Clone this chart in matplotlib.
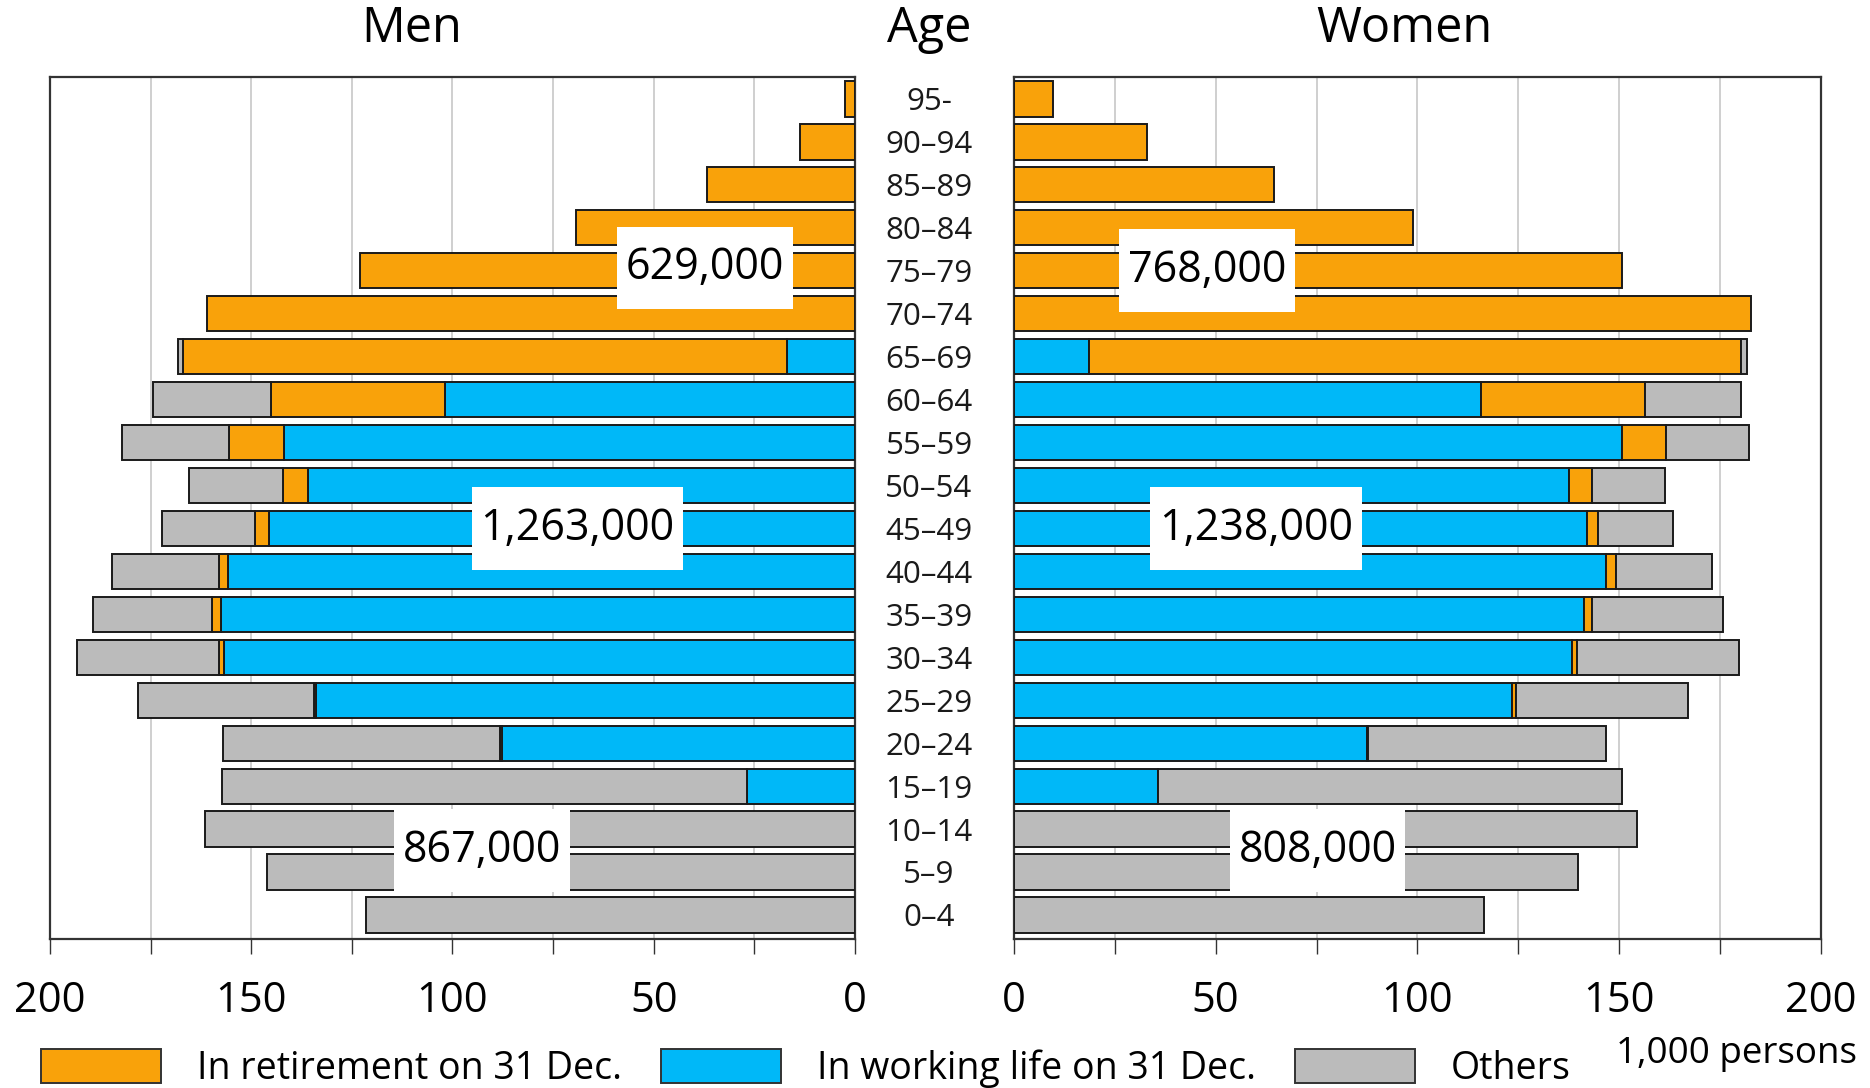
import numpy as np
import matplotlib.pyplot as plt
from matplotlib.patches import Patch
from matplotlib.path import Path

plt.rcParams['font.family'] = ['Open Sans', 'DejaVu Sans']

# Age groups, top to bottom
ages = ['95-', '90–94', '85–89', '80–84', '75–79', '70–74', '65–69', '60–64',
        '55–59', '50–54', '45–49', '40–44', '35–39', '30–34', '25–29', '20–24',
        '15–19', '10–14', '5–9', '0–4']

# 1,000 persons
men_work = [0, 0, 0, 0, 0, 0, 16.9, 101.8, 141.8, 135.8, 145.5, 155.8, 157.6, 156.8,
            134.0, 87.6, 26.9, 0, 0, 0]
men_retired = [2.4, 13.6, 36.7, 69.3, 123.0, 161.0, 150.1, 43.2, 13.6, 6.4, 3.5, 2.3,
               2.1, 1.1, 0.5, 0.6, 0, 0, 0, 0]
men_others = [0, 0, 0, 0, 0, 0, 1.1, 29.3, 26.6, 23.3, 23.2, 26.4, 29.6, 35.3, 43.7,
              68.8, 130.3, 161.5, 146.0, 121.5]

women_work = [0, 0, 0, 0, 0, 0, 18.6, 115.8, 150.6, 137.5, 141.9, 146.7, 141.3, 138.4,
              123.4, 87.4, 35.7, 0, 0, 0]
women_retired = [9.7, 33.0, 64.4, 99.0, 150.7, 182.6, 161.5, 40.6, 11.1, 5.8, 2.8, 2.4,
                 2.0, 1.1, 1.1, 0.3, 0, 0, 0, 0]
women_others = [0, 0, 0, 0, 0, 0, 1.5, 23.8, 20.4, 18.0, 18.5, 23.8, 32.5, 40.3, 42.6,
                59.1, 115.0, 154.5, 139.7, 116.4]

men_totals = ['629,000', '1,263,000', '867,000']
women_totals = ['768,000', '1,238,000', '808,000']

legend_labels = ['In retirement on 31 Dec.', 'In working life on 31 Dec.', 'Others']
c_ret = '#F9A20A'
c_work = '#00B8F8'
c_oth = '#BBBBBB'

fig = plt.figure(figsize=(18.7, 10.88), dpi=100)
ax_l = fig.add_axes([0.0267, 0.1373, 0.4305, 0.7915])
ax_r = fig.add_axes([0.5422, 0.1373, 0.4316, 0.7915])

y = np.arange(len(ages))[::-1]
h = 0.82
bar_kw = dict(height=h, edgecolor='#1a1a1a', linewidth=1.4, zorder=3)


def draw_side(ax, work, ret, oth):
    work = np.array(work)
    ret = np.array(ret)
    oth = np.array(oth)
    # skip empty segments so no zero-width outlines show
    m = work > 0
    ax.barh(y[m], work[m], color=c_work, **bar_kw)
    m = ret > 0
    ax.barh(y[m], ret[m], left=work[m], color=c_ret, **bar_kw)
    m = oth > 0
    ax.barh(y[m], oth[m], left=(work + ret)[m], color=c_oth, **bar_kw)

    ax.set_ylim(-0.55, len(ages) - 0.5)
    ax.set_yticks([])
    ax.set_xticks([0, 50, 100, 150, 200])
    ax.set_xticks(np.arange(0, 201, 25), minor=True)
    ax.tick_params(axis='x', which='both', direction='out', length=11, width=1.0,
                   color='#333333', labelsize=30, pad=19)
    ax.grid(axis='x', which='both', color='#cccccc', linewidth=1.3, zorder=0)
    for s in ax.spines.values():
        s.set_color('#333333')
        s.set_linewidth(1.6)


draw_side(ax_l, men_work, men_retired, men_others)
draw_side(ax_r, women_work, women_retired, women_others)
ax_l.set_xlim(200, 0)
ax_r.set_xlim(0, 200)

# age labels in the middle
for yi, lab in zip(y, ages):
    ax_l.text(1.092, yi - 0.08, lab, transform=ax_l.get_yaxis_transform(), ha='center',
              va='center', fontsize=22.5, color='#1a1a1a')


# white label box, taller than wide padding
def tall_box(x0, y0, width, height, mutation_size):
    px, py = 0.2 * mutation_size, 0.44 * mutation_size
    return Path([(x0 - px, y0 - py), (x0 + width + px, y0 - py),
                 (x0 + width + px, y0 + height + py), (x0 - px, y0 + height + py),
                 (x0 - px, y0 - py)], closed=True)


box = dict(boxstyle=tall_box, facecolor='white', edgecolor='none')
for ax, totals, xs, ys in [(ax_l, men_totals, [37.3, 69.0, 92.7], [3.93, 10.0, 17.5]),
                           (ax_r, women_totals, [47.9, 60.0, 75.3], [3.99, 10.0, 17.5])]:
    for t, xv, yv in zip(totals, xs, ys):
        ax.text(xv, 19 - yv, t, ha='center', va='center', fontsize=31, bbox=box, zorder=5)

fig.text(0.22, 0.973, 'Men', ha='center', va='center', fontsize=35)
fig.text(0.497, 0.973, 'Age', ha='center', va='center', fontsize=35)
fig.text(0.751, 0.973, 'Women', ha='center', va='center', fontsize=35)

handles = [Patch(facecolor=c, edgecolor='#333333', linewidth=1.4)
           for c in [c_ret, c_work, c_oth]]
fig.legend(handles, legend_labels, loc='center left', bbox_to_anchor=(0.022, 0.018),
           ncol=3, frameon=False, fontsize=27, handlelength=3.2, handleheight=1.0,
           handletextpad=0.95, columnspacing=1.05, borderpad=0, borderaxespad=0)
fig.text(0.864, 0.031, '1,000 persons', ha='left', va='center', fontsize=26.5)

fig.savefig('out.png', dpi=100)
